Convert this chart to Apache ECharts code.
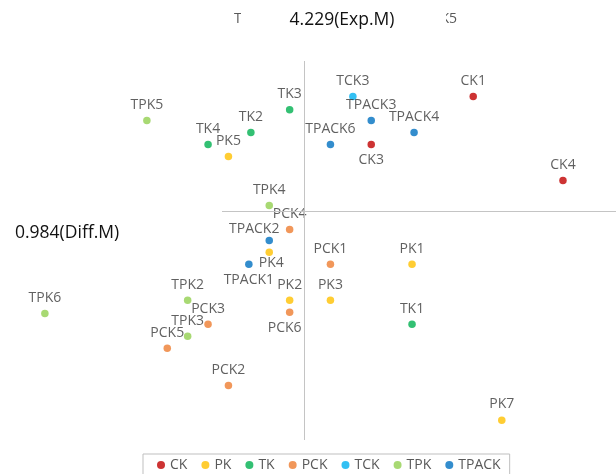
<!DOCTYPE html>
<html>
<head>
<meta charset="utf-8">
<script src="https://cdn.jsdelivr.net/npm/echarts@6/dist/echarts.min.js"></script>
<style>
html,body{margin:0;padding:0;background:#fff;}
#chart{width:616px;height:474px;}
</style>
</head>
<body>
<div id="chart"></div>
<script>
// ---- data (x = Exp, y = Diff) ----
const ckNames = ['CK1', 'CK3', 'CK4'];
const ckX = [5.06, 4.56, 5.50];
const ckY = [1.94, 1.54, 1.24];

const pkNames = ['PK1', 'PK2', 'PK3', 'PK4', 'PK5', 'PK7'];
const pkX = [4.76, 4.16, 4.36, 4.06, 3.86, 5.20];
const pkY = [0.54, 0.24, 0.24, 0.64, 1.44, -0.76];

const tkNames = ['TK1', 'TK2', 'TK3', 'TK4'];
const tkX = [4.76, 3.97, 4.16, 3.76];
const tkY = [0.04, 1.64, 1.83, 1.54];

const pckNames = ['PCK1', 'PCK2', 'PCK3', 'PCK4', 'PCK5', 'PCK6'];
const pckX = [4.36, 3.86, 3.76, 4.16, 3.56, 4.16];
const pckY = [0.54, -0.47, 0.04, 0.83, -0.16, 0.14];

const tckNames = ['TCK3'];
const tckX = [4.47];
const tckY = [1.94];

const tpkNames = ['TPK2', 'TPK3', 'TPK4', 'TPK5', 'TPK6'];
const tpkX = [3.66, 3.66, 4.06, 3.46, 2.96];
const tpkY = [0.24, -0.06, 1.03, 1.74, 0.13];

const tpackNames = ['TPACK1', 'TPACK2', 'TPACK3', 'TPACK4', 'TPACK6'];
const tpackX = [3.96, 4.06, 4.56, 4.77, 4.36];
const tpackY = [0.54, 0.74, 1.74, 1.64, 1.54];

const groupNames = ['CK', 'PK', 'TK', 'PCK', 'TCK', 'TPK', 'TPACK'];
const expMean = 4.229;
const diffMean = 0.984;
const expMeanLabel = '4.229(Exp.M)';
const diffMeanLabel = '0.984(Diff.M)';

// ---- styles ----
const colors = ['#C00000', '#FFC000', '#00B050', '#ED7D31', '#00B0F0', '#92D050', '#0070C0'];
const FONT = '"Open Sans", "Noto Sans", sans-serif';
const labelTweaks = {
  CK3: { position: 'bottom' },
  TPACK1: { position: 'bottom' },
  PCK6: { position: 'bottom', offset: [-5, 0] },
  PK4: { position: 'bottom', offset: [2, -5] },
  TPACK2: { position: 'top', offset: [-15, 4] }
};

const groups = [
  [ckNames, ckX, ckY], [pkNames, pkX, pkY], [tkNames, tkX, tkY],
  [pckNames, pckX, pckY], [tckNames, tckX, tckY], [tpkNames, tpkX, tpkY],
  [tpackNames, tpackX, tpackY]
];

const series = groups.map(function (g, i) {
  const names = g[0], xs = g[1], ys = g[2];
  const s = {
    name: groupNames[i],
    type: 'scatter',
    symbol: 'circle',
    symbolSize: 7.5,
    itemStyle: { color: colors[i] },
    label: {
      show: true,
      position: 'top',
      distance: 5,
      formatter: function (p) { return p.name; },
      color: '#383838',
      fontFamily: FONT,
      fontSize: 14
    },
    emphasis: { disabled: true },
    data: names.map(function (n, k) {
      const d = { name: n, value: [xs[k], ys[k]] };
      if (labelTweaks[n]) d.label = labelTweaks[n];
      return d;
    })
  };
  if (i === 0) {
    s.markLine = {
      silent: true,
      symbol: 'none',
      animation: false,
      label: { show: false },
      lineStyle: { color: '#c4c4c4', width: 1, type: 'solid' },
      data: [{ xAxis: expMean }, { yAxis: diffMean }]
    };
  }
  return s;
});

const chart = echarts.init(document.getElementById('chart'), null, { renderer: 'canvas' });
chart.setOption({
  animation: false,
  backgroundColor: '#ffffff',
  grid: { left: 0, right: 0, top: 0, bottom: 34 },
  xAxis: { type: 'value', min: 2.74, max: 5.76, show: false },
  yAxis: { type: 'value', min: -0.925, max: 2.745, show: false },
  legend: {
    left: 143, top: 454,
    padding: [4, 9, 10, 14],
    borderColor: '#bfbfbf', borderWidth: 1,
    itemWidth: 8, itemHeight: 8, itemGap: 14,
    icon: 'circle',
    textStyle: { color: '#595959', fontFamily: FONT, fontSize: 14 },
    data: groupNames
  },
  graphic: [
    { type: 'text', z: 100, left: 234, top: 12,
      style: { text: 'TPACK5', fill: '#595959', font: '14px ' + FONT } },
    { type: 'text', z: 100, right: 616 - 457, top: 12,
      style: { text: 'TCK5', fill: '#595959', font: '14px ' + FONT } },
    { type: 'rect', z: 101, shape: { x: 241, y: 0, width: 205, height: 61 },
      style: { fill: '#ffffff' } },
    { type: 'text', z: 102, x: 342, y: 20,
      style: { text: expMeanLabel, fill: '#111111', font: '17.5px ' + FONT,
        textAlign: 'center', textVerticalAlign: 'middle' } },
    { type: 'rect', z: 101, shape: { x: 0, y: 196, width: 222, height: 60 },
      style: { fill: '#ffffff' } },
    { type: 'text', z: 102, x: 15, y: 233,
      style: { text: diffMeanLabel, fill: '#111111', font: '17.5px ' + FONT,
        textAlign: 'left', textVerticalAlign: 'middle' } }
  ],
  series: series
});
</script>
</body>
</html>
